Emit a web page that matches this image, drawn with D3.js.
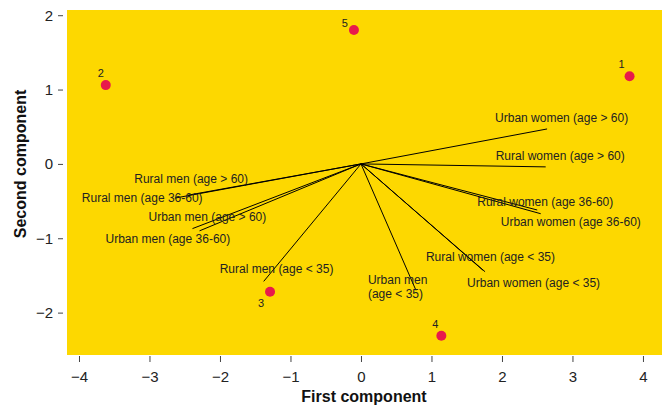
<!DOCTYPE html>
<html><head><meta charset="utf-8">
<script src="https://cdn.jsdelivr.net/npm/d3@7"></script>
<style>
body{margin:0;background:#fff;}
svg{display:block;font-family:"Liberation Sans",Arial,sans-serif;}
</style></head>
<body><svg id="c" width="666" height="405"></svg>
<script>
// Loadings (variables) on first and second component
const varNames = ["Urban women (age > 60)","Rural women (age > 60)","Rural women (age 36-60)","Urban women (age 36-60)",
  "Rural women (age < 35)","Urban women (age < 35)","Urban men\n(age < 35)","Rural men (age < 35)",
  "Urban men (age 36-60)","Urban men (age > 60)","Rural men (age 36-60)","Rural men (age > 60)"];
const varPC1 = [2.64, 2.62, 2.50, 2.55, 1.73, 1.76, 0.78, -1.38, -2.39, -2.29, -2.64, -2.45];
const varPC2 = [0.47, -0.04, -0.62, -0.67, -1.43, -1.45, -1.70, -1.58, -0.87, -0.90, -0.46, -0.42];
// Scores (observations)
const obsLabels = ["1","2","3","4","5"];
const obsPC1 = [3.81, -3.62, -1.29, 1.14, -0.10];
const obsPC2 = [1.18, 1.06, -1.72, -2.31, 1.80];
const xTicks = [-4,-3,-2,-1,0,1,2,3,4];
const yTicks = [-2,-1,0,1,2];

// layout (label offsets in px relative to the arrow tip / point)
const varLabelOff = [[-52,-7],[-50,-7],[-60,-4],[-40,12],[-57,-9],[-18,15],[-48,-6],[-44,-8],[-87,14],[-51,-10],[-93,4],[-54,-12]];
const obsLabelOff = [[-8,-12],[-5,-12],[-9,11],[-6,-12],[-9,-7]];

const svg = d3.select("#c");
const L=67,R=662,T=10,B=355;
const x = d3.scaleLinear().domain([-4.17,4.27]).range([L,R]);
const y = d3.scaleLinear().domain([-2.57,2.07]).range([B,T]);

svg.append("rect").attr("x",L).attr("y",T).attr("width",R-L).attr("height",B-T).attr("fill","#FDD800");

const xa = svg.append("g").attr("transform",`translate(0,${B+1})`)
  .call(d3.axisBottom(x).tickValues(xTicks).tickSize(6).tickPadding(9).tickFormat(d3.format("d")));
const ya = svg.append("g").attr("transform",`translate(${L-4},0)`)
  .call(d3.axisLeft(y).tickValues(yTicks).tickSize(5).tickPadding(5).tickFormat(d3.format("d")));
[xa,ya].forEach(a=>{
  a.select(".domain").remove();
  a.selectAll(".tick line").attr("stroke","#444");
  a.selectAll(".tick text").attr("font-size",15).attr("fill","#222").attr("font-family","Liberation Sans, Arial, sans-serif");
});

svg.append("text").attr("x",364).attr("y",402).attr("text-anchor","middle")
  .attr("font-size",16).attr("font-weight","bold").attr("fill","#111").text("First component");
svg.append("text").attr("transform","translate(26,164) rotate(-90)").attr("text-anchor","middle")
  .attr("font-size",16).attr("font-weight","bold").attr("fill","#111").text("Second component");

const vars = varNames.map((n,i)=>({n,a:varPC1[i],b:varPC2[i],o:varLabelOff[i]}));
svg.append("g").selectAll("line").data(vars).join("line")
  .attr("x1",x(0)).attr("y1",y(0)).attr("x2",d=>x(d.a)).attr("y2",d=>y(d.b))
  .attr("stroke","#000").attr("stroke-width",1);
const vt = svg.append("g").selectAll("text").data(vars).join("text")
  .attr("font-size",12).attr("fill","#222");
vt.each(function(d){
  const lines=d.n.split("\n");
  d3.select(this).selectAll("tspan").data(lines).join("tspan")
    .attr("x",x(d.a)+d.o[0]).attr("y",(l,j)=>y(d.b)+d.o[1]+j*14).text(l=>l);
});

const obs = obsLabels.map((n,i)=>({n,a:obsPC1[i],b:obsPC2[i],o:obsLabelOff[i]}));
svg.append("g").selectAll("circle").data(obs).join("circle")
  .attr("cx",d=>x(d.a)).attr("cy",d=>y(d.b)).attr("r",5).attr("fill","#E8194B");
svg.append("g").selectAll("text").data(obs).join("text")
  .attr("x",d=>x(d.a)+d.o[0]).attr("y",d=>y(d.b)+d.o[1]).attr("dy","0.35em")
  .attr("text-anchor","middle").attr("font-size",11).attr("fill","#222").text(d=>d.n);
</script></body></html>
